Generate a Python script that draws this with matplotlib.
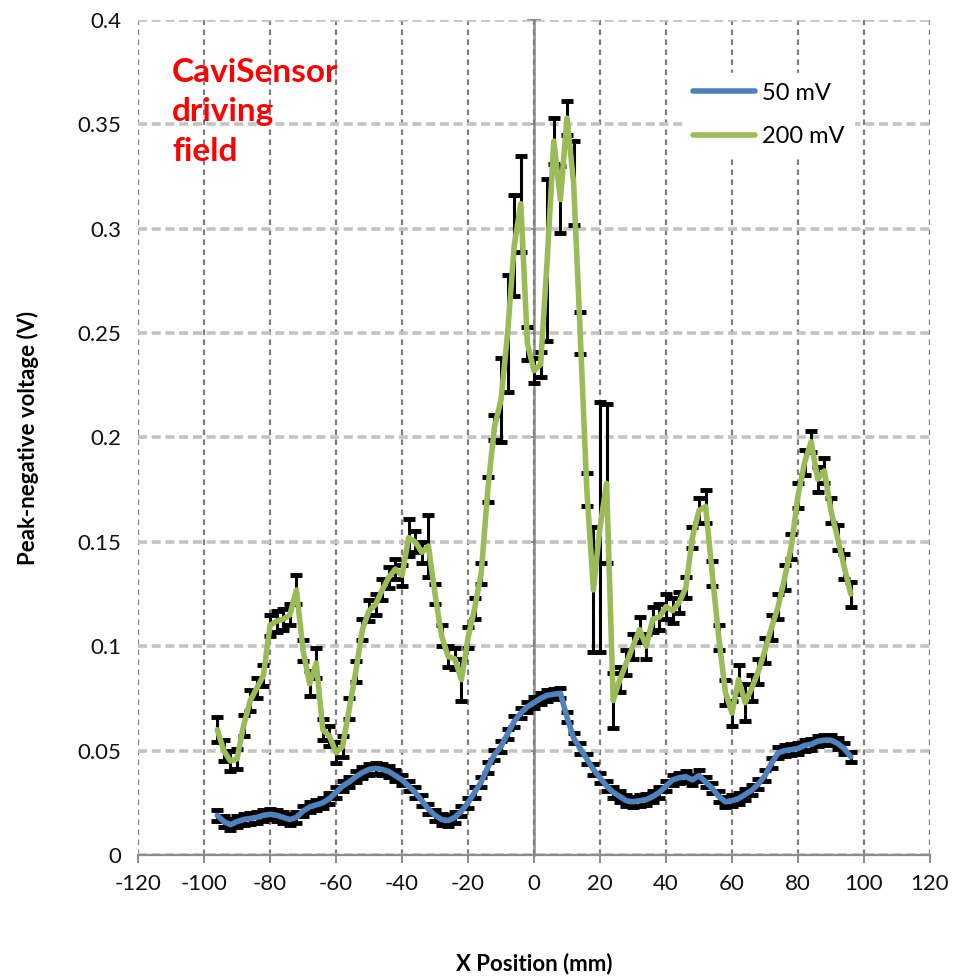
import matplotlib
matplotlib.use("Agg")
import matplotlib.pyplot as plt
from matplotlib.ticker import MultipleLocator, FormatStrFormatter, NullFormatter

plt.rcParams['font.family'] = ['Lato', 'DejaVu Sans']
plt.rcParams['axes.unicode_minus'] = False

# Scan positions (mm)
x_pos = list(range(-96, 97, 2))

# Peak-negative voltage at 50 mV drive (V)
v_50mv = [
    0.019, 0.016, 0.0145, 0.016, 0.017, 0.0175, 0.018, 0.019, 0.0195, 0.019,
    0.018, 0.017, 0.018, 0.021, 0.023, 0.024, 0.025, 0.027, 0.030, 0.033,
    0.035, 0.0375, 0.0395, 0.041, 0.0415, 0.041, 0.040, 0.038, 0.036, 0.033,
    0.030, 0.026, 0.022, 0.019, 0.017, 0.0165, 0.018, 0.021, 0.025, 0.030,
    0.035, 0.042, 0.048, 0.052, 0.058, 0.064, 0.068, 0.071, 0.073, 0.075,
    0.0765, 0.077, 0.0775, 0.066, 0.056, 0.051, 0.046, 0.041, 0.037, 0.033,
    0.030, 0.028, 0.026, 0.0255, 0.026, 0.0265, 0.028, 0.030, 0.033, 0.036,
    0.037, 0.0375, 0.036, 0.038, 0.035, 0.032, 0.028, 0.0255, 0.026, 0.027,
    0.029, 0.031, 0.034, 0.038, 0.044, 0.049, 0.050, 0.0505, 0.051, 0.0525,
    0.053, 0.0545, 0.055, 0.055, 0.0535, 0.051, 0.047,
]
err_50mv = [0.0025] * len(v_50mv)

# Peak-negative voltage at 200 mV drive (V)
v_200mv = [
    0.060, 0.050, 0.045, 0.046, 0.062, 0.074, 0.080, 0.086, 0.110, 0.112,
    0.113, 0.115, 0.127, 0.098, 0.082, 0.092, 0.060, 0.057, 0.049, 0.052,
    0.070, 0.088, 0.108, 0.117, 0.120, 0.127, 0.133, 0.137, 0.134, 0.152,
    0.150, 0.145, 0.148, 0.125, 0.105, 0.095, 0.094, 0.084, 0.104, 0.118,
    0.135, 0.175, 0.205, 0.218, 0.250, 0.292, 0.312, 0.245, 0.232, 0.235,
    0.285, 0.342, 0.314, 0.353, 0.322, 0.250, 0.175, 0.127, 0.157, 0.178,
    0.074, 0.084, 0.092, 0.100, 0.108, 0.100, 0.113, 0.114, 0.119, 0.117,
    0.121, 0.128, 0.152, 0.165, 0.167, 0.135, 0.104, 0.078, 0.068, 0.084,
    0.073, 0.080, 0.088, 0.098, 0.109, 0.119, 0.133, 0.148, 0.172, 0.188,
    0.198, 0.180, 0.184, 0.165, 0.152, 0.138, 0.125,
]
err_200mv = [
    0.006, 0.005, 0.005, 0.005, 0.005, 0.005, 0.005, 0.005, 0.005, 0.005,
    0.005, 0.005, 0.007, 0.005, 0.006, 0.007, 0.005, 0.005, 0.005, 0.005,
    0.005, 0.005, 0.005, 0.005, 0.005, 0.005, 0.005, 0.005, 0.005, 0.009,
    0.005, 0.005, 0.015, 0.005, 0.005, 0.005, 0.005, 0.010, 0.005, 0.005,
    0.005, 0.006, 0.006, 0.020, 0.028, 0.024, 0.023, 0.008, 0.006, 0.006,
    0.039, 0.011, 0.016, 0.008, 0.020, 0.010, 0.008, 0.030, 0.060, 0.038,
    0.013, 0.006, 0.006, 0.006, 0.006, 0.006, 0.006, 0.006, 0.006, 0.006,
    0.005, 0.005, 0.005, 0.006, 0.008, 0.006, 0.006, 0.006, 0.006, 0.007,
    0.009, 0.006, 0.006, 0.006, 0.006, 0.006, 0.006, 0.006, 0.006, 0.006,
    0.005, 0.006, 0.006, 0.006, 0.006, 0.006, 0.006,
]

series_labels = ["50 mV", "200 mV"]
series_colors = ["#4F81BD", "#9BBB59"]

fig = plt.figure(figsize=(9.54, 9.76), dpi=100)
ax = fig.add_axes([0.1447, 0.1240, 0.9748 - 0.1447, 0.9795 - 0.1240])

ax.set_xlim(-120, 120)
ax.set_ylim(0, 0.4)
ax.xaxis.set_major_locator(MultipleLocator(20))
ax.yaxis.set_major_locator(MultipleLocator(0.05))
ax.yaxis.set_major_formatter(FormatStrFormatter('%g'))

# grid: dark dashed verticals, light dashed horizontals
ax.set_axisbelow(True)
ax.xaxis.grid(True, color="#7f7f7f", lw=1.6, linestyle=(0, (2.5, 2)))
ax.yaxis.grid(True, color="#c3c3c3", lw=2.6, linestyle=(0, (2.5, 1.3)))

for side in ("left", "right", "top"):
    ax.spines[side].set_visible(False)
ax.spines["bottom"].set_color("#8c8c8c")
ax.spines["bottom"].set_linewidth(1.6)
ax.tick_params(axis="x", direction="out", length=6, width=1.4, color="#8c8c8c",
               labelsize=16, pad=8, labelcolor="#111111")
ax.tick_params(axis="y", length=0, labelsize=16, pad=12, labelcolor="#111111")

# vertical axis line through x = 0
sec = ax.secondary_yaxis(0.5)
for sp in sec.spines.values():
    sp.set_color("#8c8c8c")
    sp.set_linewidth(1.8)
sec.yaxis.set_major_locator(MultipleLocator(0.05))
sec.yaxis.set_major_formatter(NullFormatter())
sec.tick_params(direction="inout", length=10, width=1.4, color="#8c8c8c",
                labelleft=False, labelright=False)

data = [(v_50mv, err_50mv), (v_200mv, err_200mv)]
for (vals, errs), lab, col in zip(data, series_labels, series_colors):
    ax.errorbar(x_pos, vals, yerr=errs, fmt="none", ecolor="black",
                elinewidth=2.2, capsize=4, capthick=3.5, zorder=3)
    ax.plot(x_pos, vals, color=col, lw=4, solid_joinstyle="round",
            solid_capstyle="round", label=lab, zorder=4)

ax.set_xlabel("X Position (mm)", fontsize=16, fontweight="bold", labelpad=42)
ax.set_ylabel("Peak-negative voltage (V)", fontsize=16, fontweight="bold",
              labelpad=28)

ax.text(0.043, 0.955, "CaviSensor\ndriving\nfield", transform=ax.transAxes,
        color="red", fontsize=24, fontweight="bold", va="top", ha="left",
        linespacing=1.45)

leg = ax.legend(loc="upper left", bbox_to_anchor=(0.717, 0.925),
                bbox_transform=fig.transFigure, frameon=True, fontsize=17,
                handlelength=2.6, handletextpad=0.3, labelspacing=0.95,
                borderaxespad=0)
leg.get_frame().set_facecolor("white")
leg.get_frame().set_edgecolor("white")
leg.get_frame().set_alpha(1)
for h in leg.get_lines():
    h.set_linewidth(4)

fig.savefig("out.png", dpi=100)
